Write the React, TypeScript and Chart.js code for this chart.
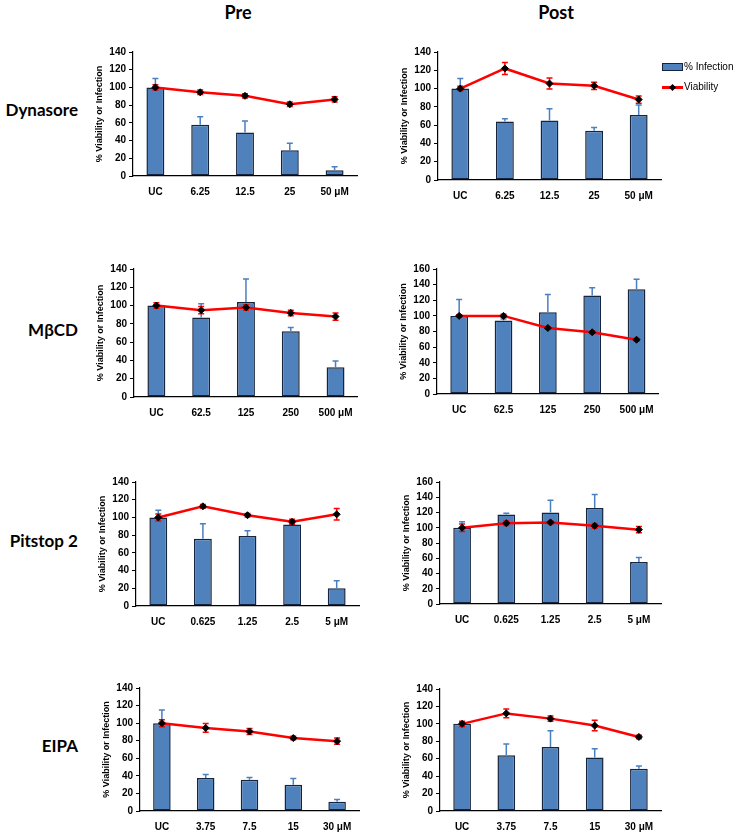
import React, { useEffect, useRef } from 'react';
import { Chart, registerables } from 'chart.js';

Chart.register(...registerables);

// ---------- data ----------
const dynasoreDoses = ['UC', '6.25', '12.5', '25', '50 μM'];
const mbcdDoses = ['UC', '62.5', '125', '250', '500 μM'];
const pitstopDoses = ['UC', '0.625', '1.25', '2.5', '5 μM'];
const eipaDoses = ['UC', '3.75', '7.5', '15', '30 μM'];

const dynasorePreInfection = [100, 58, 49, 29, 6.5];
const dynasorePreInfectionErr = [10, 9, 13, 8, 4];
const dynasorePreViability = [100, 94.5, 90.5, 81, 86.5];
const dynasorePreViabilityErr = [3, 2.5, 2.5, 2.5, 3];

const dynasorePostInfection = [100, 64, 65, 54, 71];
const dynasorePostInfectionErr = [11, 3, 13, 3.5, 11];
const dynasorePostViability = [100, 122, 105.5, 103, 88];
const dynasorePostViabilityErr = [2.5, 6.5, 6, 4, 4];

const mbcdPreInfection = [100, 87, 104, 72, 32.5];
const mbcdPreInfectionErr = [1, 15, 25, 4, 7];
const mbcdPreViability = [100, 95, 98, 92, 88];
const mbcdPreViabilityErr = [3, 4, 3, 3, 4];

const mbcdPostInfection = [100, 94, 104.5, 126, 134];
const mbcdPostInfectionErr = [21, 2, 23, 10, 13];
const mbcdPostViability = [100, 100, 84.5, 79, 69.5];
const mbcdPostViabilityErr = [1.5, 2, 1.5, 1.5, 1.5];

const pitstopPreInfection = [100, 76, 79, 92, 20];
const pitstopPreInfectionErr = [8, 17, 6, 1, 8.5];
const pitstopPreViability = [100, 112.5, 102.5, 95, 103.5];
const pitstopPreViabilityErr = [4, 2, 2, 3, 6.5];

const pitstopPostInfection = [100, 117.5, 120, 126, 55];
const pitstopPostInfectionErr = [8, 1.5, 16, 17.5, 6];
const pitstopPostViability = [100, 106, 107, 102.5, 97.5];
const pitstopPostViabilityErr = [5, 3, 2, 3, 4];

const eipaPreInfection = [100, 37.5, 35.5, 30, 10.5];
const eipaPreInfectionErr = [15, 4, 2.5, 7, 2.5];
const eipaPreViability = [100, 94.5, 90.5, 83, 79.5];
const eipaPreViabilityErr = [4, 5, 3.5, 2, 3.5];

const eipaPostInfection = [100, 64, 73.5, 61.5, 48.5];
const eipaPostInfectionErr = [2, 13, 18.5, 10, 3];
const eipaPostViability = [100, 112, 106, 98, 85];
const eipaPostViabilityErr = [3, 5, 3, 6, 2];

const yMaxes = [140, 140, 140, 160, 140, 160, 140, 140];

// ---------- styling ----------
const BAR_FILL = '#4F81BD';
const BAR_EDGE = '#16243d';
const BAR_ERR = '#4a7fc0';
const LINE_RED = '#FF0000';
const SMALL_FONT = "'Liberation Sans', Arial, sans-serif";
const BIG_FONT = "Lato, 'Open Sans', sans-serif";

const errorBarPlugin = {
  id: 'errorBars',
  beforeDatasetDraw(chart: any, args: any) {
    const ds = chart.data.datasets[args.index];
    if (ds.type !== 'line' || !ds.errors) return;
    drawErrors(chart, args.index, ds.errors, LINE_RED, true);
  },
  afterDatasetDraw(chart: any, args: any) {
    const ds = chart.data.datasets[args.index];
    if (ds.type !== 'bar' || !ds.errors) return;
    drawErrors(chart, args.index, ds.errors, BAR_ERR, false);
  },
};

function drawErrors(chart: any, index: number, errs: number[], color: string, both: boolean) {
  const ctx = chart.ctx;
  const yScale = chart.scales.y;
  const meta = chart.getDatasetMeta(index);
  const values = chart.data.datasets[index].data as number[];
  ctx.save();
  ctx.strokeStyle = color;
  ctx.lineWidth = 1.5;
  meta.data.forEach((el: any, i: number) => {
    const v = values[i];
    const e = errs[i];
    if (!e) return;
    const x = el.x;
    const yTop = yScale.getPixelForValue(v + e);
    const yBot = both ? yScale.getPixelForValue(v - e) : yScale.getPixelForValue(v);
    const cap = 3;
    ctx.beginPath();
    ctx.moveTo(x, yTop);
    ctx.lineTo(x, yBot);
    ctx.moveTo(x - cap, yTop);
    ctx.lineTo(x + cap, yTop);
    if (both) {
      ctx.moveTo(x - cap, yBot);
      ctx.lineTo(x + cap, yBot);
    }
    ctx.stroke();
  });
  ctx.restore();
}

type PanelSpec = {
  labels: string[];
  infection: number[];
  infectionErr: number[];
  viability: number[];
  viabilityErr: number[];
  yMax: number;
  axisX: number;
  right: number;
  top: number;
  bottom: number;
};

const AXIS_W = 39;
const PAD_TOP = 12;
const XAXIS_H = 30;
const PAD_RIGHT = 4;

function Panel({ spec }: { spec: PanelSpec }) {
  const ref = useRef<HTMLCanvasElement | null>(null);
  const left = spec.axisX - AXIS_W;
  const top = spec.top - PAD_TOP;
  const width = spec.right - left + PAD_RIGHT;
  const height = spec.bottom - top + XAXIS_H;

  useEffect(() => {
    if (!ref.current) return;
    const chart = new Chart(ref.current, {
      type: 'bar',
      data: {
        labels: spec.labels,
        datasets: [
          {
            type: 'line',
            label: 'Viability',
            data: spec.viability,
            errors: spec.viabilityErr,
            borderColor: LINE_RED,
            borderWidth: 2.5,
            pointStyle: 'rectRot',
            pointRadius: 3.5,
            pointBackgroundColor: '#000',
            pointBorderColor: '#000',
            pointBorderWidth: 1,
            tension: 0,
            order: 0,
          } as any,
          {
            type: 'bar',
            label: '% Infection',
            data: spec.infection,
            errors: spec.infectionErr,
            backgroundColor: BAR_FILL,
            borderColor: BAR_EDGE,
            borderWidth: 1.5,
            borderSkipped: false,
            barPercentage: 0.4,
            categoryPercentage: 1,
            order: 1,
          } as any,
        ],
      },
      options: {
        animation: false,
        responsive: false,
        maintainAspectRatio: false,
        layout: { padding: { top: PAD_TOP, right: PAD_RIGHT, left: 0, bottom: 0 } },
        plugins: { legend: { display: false }, tooltip: { enabled: false } },
        scales: {
          x: {
            grid: { display: false, drawTicks: false },
            border: { display: true, color: '#000', width: 1.2 },
            ticks: {
              color: '#000',
              font: { family: SMALL_FONT, size: 10, weight: 'bold' },
              padding: 10,
              maxRotation: 0,
              autoSkip: false,
            },
            afterFit: (s: any) => {
              s.height = XAXIS_H;
            },
          },
          y: {
            min: 0,
            max: spec.yMax,
            grid: { display: true, drawOnChartArea: false, drawTicks: true, tickLength: 4, color: '#000' },
            border: { display: true, color: '#000', width: 1.2 },
            ticks: {
              stepSize: 20,
              color: '#000',
              font: { family: SMALL_FONT, size: 10, weight: 'bold' },
              padding: 3,
            },
            title: {
              display: true,
              text: '% Viability or Infection',
              color: '#000',
              font: { family: SMALL_FONT, size: 9, weight: 'bold' },
              padding: { top: 0, bottom: 0 },
            },
            afterFit: (s: any) => {
              s.width = AXIS_W;
            },
          },
        },
      } as any,
      plugins: [errorBarPlugin],
    });
    return () => chart.destroy();
  }, []);

  return (
    <canvas
      ref={ref}
      width={width}
      height={height}
      style={{ position: 'absolute', left, top, width, height }}
    />
  );
}

const panels: PanelSpec[] = [
  { labels: dynasoreDoses, infection: dynasorePreInfection, infectionErr: dynasorePreInfectionErr, viability: dynasorePreViability, viabilityErr: dynasorePreViabilityErr, yMax: yMaxes[0], axisX: 133, right: 358, top: 52, bottom: 176 },
  { labels: dynasoreDoses, infection: dynasorePostInfection, infectionErr: dynasorePostInfectionErr, viability: dynasorePostViability, viabilityErr: dynasorePostViabilityErr, yMax: yMaxes[1], axisX: 438, right: 662, top: 52, bottom: 180 },
  { labels: mbcdDoses, infection: mbcdPreInfection, infectionErr: mbcdPreInfectionErr, viability: mbcdPreViability, viabilityErr: mbcdPreViabilityErr, yMax: yMaxes[2], axisX: 134, right: 359, top: 269, bottom: 397 },
  { labels: mbcdDoses, infection: mbcdPostInfection, infectionErr: mbcdPostInfectionErr, viability: mbcdPostViability, viabilityErr: mbcdPostViabilityErr, yMax: yMaxes[3], axisX: 437, right: 660, top: 269, bottom: 394 },
  { labels: pitstopDoses, infection: pitstopPreInfection, infectionErr: pitstopPreInfectionErr, viability: pitstopPreViability, viabilityErr: pitstopPreViabilityErr, yMax: yMaxes[4], axisX: 136, right: 360, top: 482, bottom: 606 },
  { labels: pitstopDoses, infection: pitstopPostInfection, infectionErr: pitstopPostInfectionErr, viability: pitstopPostViability, viabilityErr: pitstopPostViabilityErr, yMax: yMaxes[5], axisX: 440, right: 662, top: 482, bottom: 604 },
  { labels: eipaDoses, infection: eipaPreInfection, infectionErr: eipaPreInfectionErr, viability: eipaPreViability, viabilityErr: eipaPreViabilityErr, yMax: yMaxes[6], axisX: 140, right: 360, top: 688, bottom: 811 },
  { labels: eipaDoses, infection: eipaPostInfection, infectionErr: eipaPostInfectionErr, viability: eipaPostViability, viabilityErr: eipaPostViabilityErr, yMax: yMaxes[7], axisX: 440, right: 662, top: 689, bottom: 811 },
];

const rowLabels = [
  { text: 'Dynasore', y: 110 },
  { text: 'MβCD', y: 330 },
  { text: 'Pitstop 2', y: 541 },
  { text: 'EIPA', y: 746 },
];

function Text({ children, x, y, w, align, size, family, weight }: any) {
  const lh = 20;
  const leftPos = align === 'right' ? x - w : align === 'center' ? x - w / 2 : x;
  return (
    <div
      style={{
        position: 'absolute',
        left: leftPos,
        top: y - lh / 2,
        width: w,
        height: lh,
        lineHeight: lh + 'px',
        textAlign: align,
        fontFamily: family,
        fontSize: size,
        fontWeight: weight,
        color: '#000',
        whiteSpace: 'nowrap',
      }}
    >
      {children}
    </div>
  );
}

export default function App() {
  return (
    <div style={{ position: 'absolute', left: 0, top: 0, width: 736, height: 833, background: '#fff', overflow: 'hidden' }}>
      <Text x={238} y={12} w={80} align="center" size={18} family={BIG_FONT} weight="bold">Pre</Text>
      <Text x={556} y={12} w={80} align="center" size={18} family={BIG_FONT} weight="bold">Post</Text>
      {rowLabels.map((r) => (
        <Text key={r.text} x={78} y={r.y} w={90} align="right" size={17} family={BIG_FONT} weight="bold">{r.text}</Text>
      ))}
      {panels.map((p, i) => (
        <Panel key={i} spec={p} />
      ))}
      {/* legend */}
      <div style={{ position: 'absolute', left: 662, top: 63, width: 19, height: 6, background: BAR_FILL, border: '1px solid ' + BAR_EDGE }} />
      <Text x={684} y={67} w={60} align="left" size={10} family={SMALL_FONT} weight="normal">% Infection</Text>
      <div style={{ position: 'absolute', left: 662, top: 86, width: 21, height: 2.5, background: LINE_RED }} />
      <div style={{ position: 'absolute', left: 669.5, top: 84.5, width: 5, height: 5, background: '#000', transform: 'rotate(45deg)' }} />
      <Text x={684} y={87} w={60} align="left" size={10} family={SMALL_FONT} weight="normal">Viability</Text>
    </div>
  );
}
